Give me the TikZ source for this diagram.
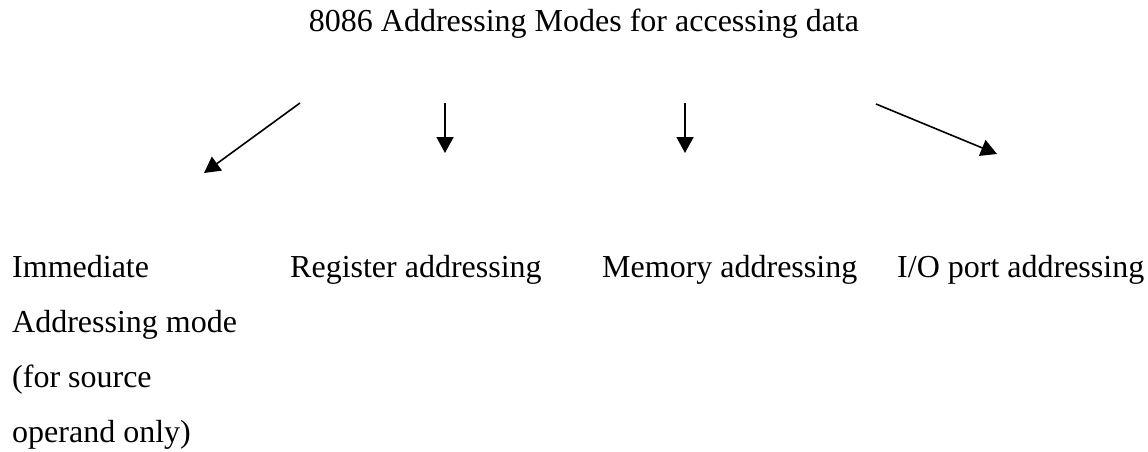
\documentclass[tikz,border=0pt]{standalone}
\usepackage{fontspec}
\setmainfont{Liberation Serif}
\usetikzlibrary{arrows.meta}
\begin{document}
\begin{tikzpicture}[x=1pt,y=-1pt,
  lbl/.style={anchor=base west,inner sep=0pt,font=\fontsize{32}{55}\selectfont,align=left},
  arr/.style={-{Triangle[length=16pt,width=17pt]},line width=1.6pt}]
\useasboundingbox (0,0) rectangle (1148,451);
\node[anchor=base,inner sep=0pt,font=\fontsize{32}{38}\selectfont] (title) at (584,31) {8086 Addressing Modes for accessing data};
\coordinate (s1) at (300,103); \coordinate (e1) at (204,173);
\coordinate (s2) at (445,103); \coordinate (e2) at (445,153);
\coordinate (s3) at (685,103); \coordinate (e3) at (685,153);
\coordinate (s4) at (876,104); \coordinate (e4) at (997,154);
\draw[arr] (s1) -- (e1);
\draw[arr] (s2) -- (e2);
\draw[arr] (s3) -- (e3);
\draw[arr] (s4) -- (e4);
\node[lbl] (imm) at (12,442) {Immediate\\Addressing mode\\(for source\\operand only)};
\node[lbl] (reg) at (290,277) {Register addressing};
\node[lbl] (mem) at (602,277) {Memory addressing};
\node[lbl] (io) at (897,277) {I/O port addressing};
\end{tikzpicture}
\end{document}
